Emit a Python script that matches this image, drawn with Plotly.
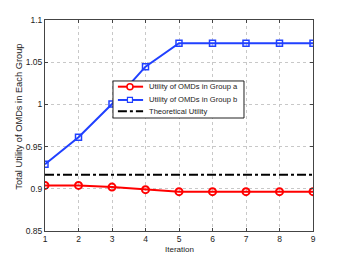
import plotly.graph_objects as go

iterations = [1, 2, 3, 4, 5, 6, 7, 8, 9]
group_a = [0.904, 0.904, 0.902, 0.899, 0.8966, 0.8966, 0.8966, 0.8966, 0.8966]
group_b = [0.929, 0.961, 1.0005, 1.0447, 1.0724, 1.0724, 1.0724, 1.0724, 1.0724]
theoretical = [0.9167] * len(iterations)
y_ticks = [0.85, 0.9, 0.95, 1, 1.05, 1.1]
y_tick_labels = ["0.85", "0.9", "0.95", "1", "1.05", "1.1"]
names = ["Utility of OMDs in Group a", "Utility of OMDs in Group b", "Theoretical Utility"]
x_title = "Iteration"
y_title = "Total Utility of OMDs in Each Group"

RED = "#ff0000"
BLUE = "#2040ff"

fig = go.Figure()
fig.add_trace(go.Scatter(
    x=iterations, y=group_a, mode="lines+markers", name=names[0],
    line=dict(color=RED, width=2),
    marker=dict(symbol="circle-open", size=7, color=RED, line=dict(width=2)),
))
fig.add_trace(go.Scatter(
    x=iterations, y=group_b, mode="lines+markers", name=names[1],
    line=dict(color=BLUE, width=2),
    marker=dict(symbol="square-open", size=6, color=BLUE, line=dict(width=1.5)),
))
fig.add_trace(go.Scatter(
    x=iterations, y=theoretical, mode="lines", name=names[2],
    line=dict(color="black", width=2, dash="dashdot"),
))

axis_common = dict(
    showline=True, linecolor="#444", linewidth=1, mirror="ticks",
    ticks="inside", ticklen=3, tickcolor="#444",
    showgrid=True, gridcolor="#c8c8c8", griddash="dot", gridwidth=1,
    zeroline=False, tickfont=dict(size=8.5, color="#222"), automargin=False,
)

# custom MATLAB-like compact legend (paper coordinates)
box = dict(x0=0.2537, x1=0.7425, y0=0.5355, y1=0.711)
rows = [0.684, 0.621, 0.567]
lx0, lx1, lxm, tx = 0.272, 0.366, 0.317, 0.379
shapes = [dict(type="rect", xref="paper", yref="paper", **box,
               fillcolor="white", line=dict(color="#222", width=1), layer="above")]
annotations = []
styles = [(RED, "solid"), (BLUE, "solid"), ("black", "dashdot")]
for i, (name, (col, dash)) in enumerate(zip(names, styles)):
    y = rows[i]
    shapes.append(dict(type="line", xref="paper", yref="paper", x0=lx0, x1=lx1, y0=y, y1=y,
                       line=dict(color=col, width=2, dash=dash), layer="above"))
    if i == 0:
        shapes.append(dict(type="circle", xref="paper", yref="paper", xsizemode="pixel", ysizemode="pixel",
                           xanchor=lxm, yanchor=y, x0=-3, x1=3, y0=-3, y1=3,
                           line=dict(color=col, width=1.5), fillcolor="white", layer="above"))
    elif i == 1:
        shapes.append(dict(type="rect", xref="paper", yref="paper", xsizemode="pixel", ysizemode="pixel",
                           xanchor=lxm, yanchor=y, x0=-2.5, x1=2.5, y0=-2.5, y1=2.5,
                           line=dict(color=col, width=1.2), fillcolor="white", layer="above"))
    annotations.append(dict(xref="paper", yref="paper", x=tx, y=y, text=name, showarrow=False,
                            xanchor="left", yanchor="middle", font=dict(size=7.6, color="#222")))

# axis titles
annotations.append(dict(xref="paper", yref="paper", x=0.5, y=-0.0867, text=x_title, showarrow=False,
                        xanchor="center", yanchor="middle", font=dict(size=8, color="#222")))
annotations.append(dict(xref="paper", yref="paper", x=-0.097, y=0.5417, text=y_title, showarrow=False,
                        textangle=-90, xanchor="center", yanchor="middle", font=dict(size=9.3, color="#222")))

fig.update_layout(
    width=338, height=253,
    margin=dict(l=37, r=33, t=12, b=30),
    paper_bgcolor="white", plot_bgcolor="white",
    font=dict(family="Liberation Sans, Arial, sans-serif", size=8, color="#222"),
    xaxis=dict(range=[1, 9], tickvals=iterations, **axis_common),
    yaxis=dict(range=[0.85, 1.1], tickvals=y_ticks, ticktext=y_tick_labels, **axis_common),
    showlegend=False,
    shapes=shapes,
    annotations=annotations,
)

fig.write_html("out.html")
